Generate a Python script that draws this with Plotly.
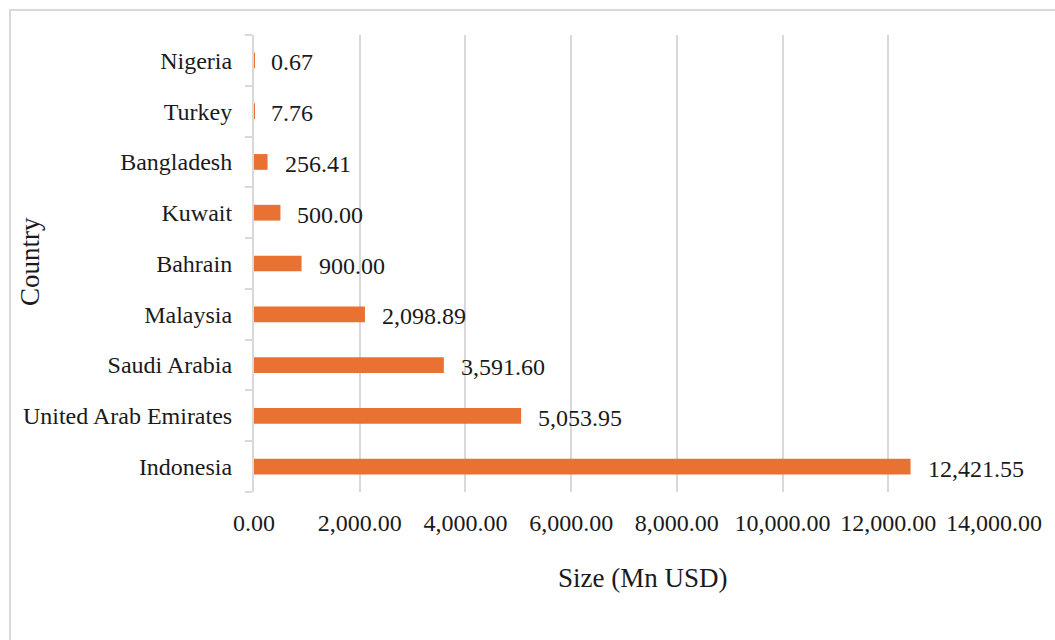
import plotly.graph_objects as go

countries = ["Indonesia", "United Arab Emirates", "Saudi Arabia", "Malaysia",
             "Bahrain", "Kuwait", "Bangladesh", "Turkey", "Nigeria"]
sizes = [12421.55, 5053.95, 3591.60, 2098.89, 900.00, 500.00, 256.41, 7.76, 0.67]
x_ticks = [0, 2000, 4000, 6000, 8000, 10000, 12000, 14000]

FONT = "Liberation Serif, Times New Roman, serif"
TXT = "#1a1a1a"
GRID = "#d9d9d9"

W, H = 1055, 640
L, R, T, B = 254, 61, 35, 148

fig = go.Figure(go.Bar(
    x=sizes, y=countries, orientation="h",
    marker=dict(color="#E97132", line=dict(width=0)),
    width=0.31, hoverinfo="x+y",
))

for c, v in zip(countries, sizes):
    fig.add_annotation(x=v, y=c, xref="x", yref="y", text=f"{v:,.2f}",
                       showarrow=False, xanchor="left", xshift=15, yshift=-2,
                       font=dict(family=FONT, size=24, color=TXT))

pw, ph = W - L - R, H - T - B
# outer chart border
fig.add_shape(type="rect", xref="paper", yref="paper",
              x0=(10 - L) / pw, x1=(W + 20 - L) / pw,
              y0=-(H + 20 - T - ph) / ph, y1=1 + (T - 10) / ph,
              line=dict(color=GRID, width=2), fillcolor="rgba(0,0,0,0)", layer="below")

# axis titles
fig.add_annotation(x=(643 - L) / pw, y=-(578 - T - ph) / ph, xref="paper", yref="paper",
                   text="Size (Mn USD)", showarrow=False, xanchor="center", yanchor="middle",
                   font=dict(family=FONT, size=27, color=TXT))
fig.add_annotation(x=(30 - L) / pw, y=1 - (262 - T) / ph, xref="paper", yref="paper",
                   text="Country", showarrow=False, textangle=-90, xanchor="center", yanchor="middle",
                   font=dict(family=FONT, size=27, color=TXT))

fig.update_layout(
    width=W, height=H,
    margin=dict(l=L, r=R, t=T, b=B, pad=0),
    paper_bgcolor="white", plot_bgcolor="white",
    showlegend=False,
    font=dict(family=FONT, size=24, color=TXT),
    xaxis=dict(range=[0, 14000], tickvals=x_ticks, tickformat=",.2f",
               showgrid=True, gridcolor=GRID, gridwidth=2, zeroline=False,
               showline=False, ticks="", ticklabelstandoff=14,
               tickfont=dict(family=FONT, size=24, color=TXT), fixedrange=True),
    yaxis=dict(categoryorder="array", categoryarray=countries,
               showgrid=False, zeroline=False, showline=True, linecolor=GRID, linewidth=2,
               ticks="outside", tickson="boundaries", ticklen=7, tickcolor=GRID, tickwidth=2,
               ticklabelstandoff=15,
               tickfont=dict(family=FONT, size=24, color=TXT), fixedrange=True),
)

fig.write_html("out.html")
